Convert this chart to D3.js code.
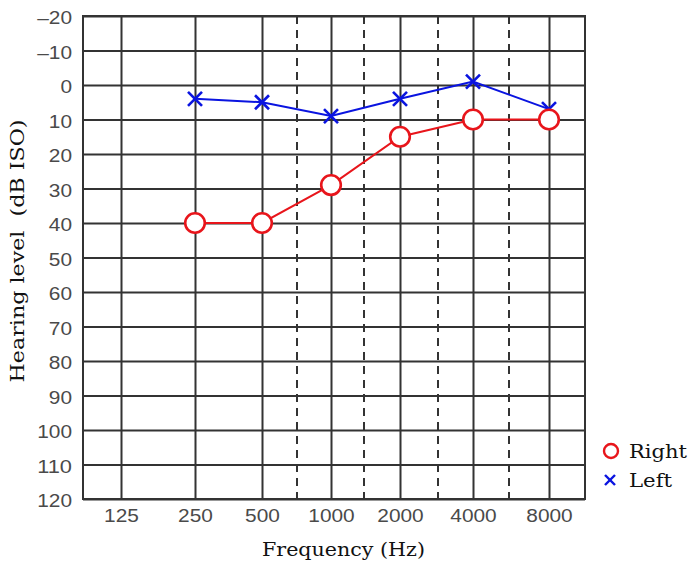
<!DOCTYPE html>
<html>
<head>
<meta charset="utf-8">
<script src="https://cdn.jsdelivr.net/npm/d3@7"></script>
<style>
  html, body { margin: 0; padding: 0; background: #fff; }
  svg { display: block; }
</style>
</head>
<body>
<svg id="chart" width="692" height="566"></svg>
<script>
// Audiogram data (hearing level in dB, larger = worse)
const frequencies = [250, 500, 1000, 2000, 4000, 8000];
const rightEar = [40, 40, 29, 15, 10, 10];
const leftEar = [4, 5, 9, 4, -1, 7];

// Axis labels
const freqTicks = [125, 250, 500, 1000, 2000, 4000, 8000];
const halfOctaves = [750, 1500, 3000, 6000];
const dbTicks = [-20, -10, 0, 10, 20, 30, 40, 50, 60, 70, 80, 90, 100, 110, 120];

const svg = d3.select("#chart");
const plot = { left: 83, right: 585, top: 16, bottom: 499 };

// Octave axis: log2 frequency mapped piecewise onto the printed form's columns
const xStops = [125, 250, 500, 750, 1000, 1500, 2000, 3000, 4000, 6000, 8000];
const xPix = [121, 195, 262, 297, 331, 364, 400, 438, 473, 509, 549];
const x = d3.scaleLinear()
  .domain(xStops.map(f => Math.log2(f)))
  .range(xPix);
const fx = f => x(Math.log2(f));

const y = d3.scaleLinear().domain([-20, 120]).range([plot.top, plot.bottom]);

const gridColor = "#333";
const sans = "Liberation Sans, Arial, Helvetica, sans-serif";
const serif = "DejaVu Serif, serif";

// Wide sans tick lettering
const styleTicks = sel => sel
  .attr("font-family", sans).attr("font-size", 18).attr("fill", "#4a4a4a")
  .attr("lengthAdjust", "spacingAndGlyphs")
  .attr("textLength", function () { return this.textContent.length * 11.6; });

// Horizontal grid + y tick labels
const yAxis = d3.axisLeft(y).tickValues(dbTicks)
  .tickSize(-(plot.right - plot.left))
  .tickPadding(11)
  .tickFormat(d => d < 0 ? "\u2013" + Math.abs(d) : String(d));
const gy = svg.append("g").attr("transform", `translate(${plot.left},0)`).call(yAxis);
gy.select(".domain").remove();
gy.selectAll(".tick line").attr("stroke", gridColor).attr("stroke-width", 2);
gy.selectAll(".tick text").attr("dy", "0.42em").call(styleTicks);

// Vertical grid at octaves + x tick labels
const xAxis = d3.axisBottom(x)
  .tickValues(freqTicks.map(f => Math.log2(f)))
  .tickSize(-(plot.bottom - plot.top))
  .tickPadding(10)
  .tickFormat(d => String(Math.round(Math.pow(2, d))));
const gx = svg.append("g").attr("transform", `translate(0,${plot.bottom})`).call(xAxis);
gx.select(".domain").remove();
gx.selectAll(".tick line").attr("stroke", gridColor).attr("stroke-width", 2);
gx.selectAll(".tick text").call(styleTicks);

// Dashed half-octave lines
svg.append("g").selectAll("line").data(halfOctaves).join("line")
  .attr("x1", d => fx(d)).attr("x2", d => fx(d))
  .attr("y1", plot.top).attr("y2", plot.bottom)
  .attr("stroke", gridColor).attr("stroke-width", 2)
  .attr("stroke-dasharray", "8,6");

// Plot frame
svg.append("rect")
  .attr("x", plot.left).attr("y", plot.top)
  .attr("width", plot.right - plot.left).attr("height", plot.bottom - plot.top)
  .attr("fill", "none").attr("stroke", gridColor).attr("stroke-width", 2);

const line = d3.line().x((d, i) => fx(frequencies[i])).y(d => y(d));

// Left ear (blue crosses)
svg.append("path").datum(leftEar).attr("d", line)
  .attr("fill", "none").attr("stroke", "#0a14e0").attr("stroke-width", 2);
const cross = (g, s, w) => g.each(function () {
  const el = d3.select(this);
  el.append("line").attr("x1", -s).attr("y1", -s).attr("x2", s).attr("y2", s);
  el.append("line").attr("x1", -s).attr("y1", s).attr("x2", s).attr("y2", -s);
}).attr("stroke", "#0a14e0").attr("stroke-width", w);
svg.append("g").selectAll("g").data(leftEar).join("g")
  .attr("transform", (d, i) => `translate(${fx(frequencies[i])},${y(d)})`)
  .call(cross, 7, 2.6);

// Right ear (red circles)
svg.append("path").datum(rightEar).attr("d", line)
  .attr("fill", "none").attr("stroke", "#e8151b").attr("stroke-width", 2);
svg.append("g").selectAll("circle").data(rightEar).join("circle")
  .attr("cx", (d, i) => fx(frequencies[i])).attr("cy", d => y(d))
  .attr("r", 9.8).attr("fill", "#fff")
  .attr("stroke", "#e8151b").attr("stroke-width", 2.6);

// Axis titles
svg.append("text")
  .attr("x", 343.5).attr("y", 556)
  .attr("text-anchor", "middle")
  .attr("font-family", serif).attr("font-size", 19)
  .attr("fill", "#111")
  .attr("lengthAdjust", "spacingAndGlyphs").attr("textLength", 163)
  .text("Frequency (Hz)");
svg.append("text")
  .attr("transform", `translate(24,251) rotate(-90)`)
  .attr("text-anchor", "middle")
  .attr("font-family", serif).attr("font-size", 19)
  .attr("fill", "#111")
  .attr("xml:space", "preserve")
  .attr("lengthAdjust", "spacingAndGlyphs").attr("textLength", 263)
  .text("Hearing level  (dB ISO)");

// Legend
const legend = svg.append("g").attr("transform", "translate(611,0)");
legend.append("circle").attr("cx", 0).attr("cy", 451).attr("r", 7)
  .attr("fill", "#fff").attr("stroke", "#e8151b").attr("stroke-width", 2.4);
legend.append("g").attr("transform", "translate(-1,480)").call(cross, 5, 2.4);
legend.append("text").attr("x", 18).attr("y", 458)
  .attr("font-family", serif).attr("font-size", 19).attr("fill", "#111")
  .attr("lengthAdjust", "spacingAndGlyphs").attr("textLength", 58)
  .text("Right");
legend.append("text").attr("x", 18).attr("y", 487)
  .attr("font-family", serif).attr("font-size", 19).attr("fill", "#111")
  .attr("lengthAdjust", "spacingAndGlyphs").attr("textLength", 43)
  .text("Left");
</script>
</body>
</html>
